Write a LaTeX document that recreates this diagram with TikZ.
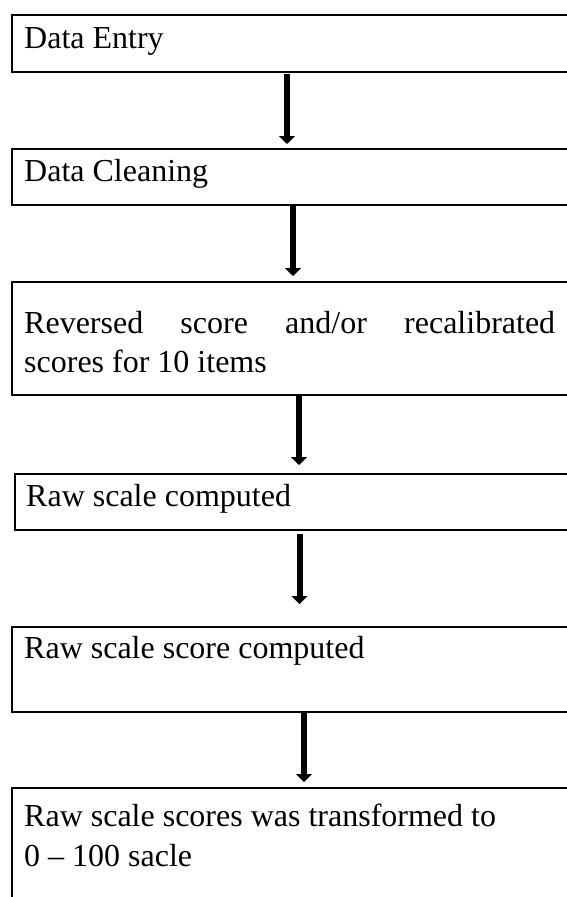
\documentclass[tikz,border=0pt]{standalone}
\usepackage{fontspec}
\setmainfont{Liberation Serif}
\usetikzlibrary{arrows.meta}
\begin{document}
\begin{tikzpicture}[x=1pt,y=1pt,
  box/.style={draw, line width=2pt, anchor=north west, minimum width=640pt, inner sep=0pt},
  lbl/.style={anchor=base west, inner sep=0pt, font=\fontsize{32}{36}\selectfont},
  arr/.style={line width=6pt, -{Triangle[width=16pt,length=8pt]}}]
\useasboundingbox (0,0) rectangle (567,-897);
\clip (0,0) rectangle (567,-897);
% boxes
\node[box, minimum height=57pt] (b1) at (11,-14) {};
\node[box, minimum height=56pt] (b2) at (11,-148) {};
\node[box, minimum height=113pt] (b3) at (11,-281) {};
\node[box, minimum height=56pt] (b4) at (13.7,-473) {};
\node[box, minimum height=85pt] (b5) at (11,-626) {};
\node[box, minimum height=140pt] (b6) at (11,-787) {};
% labels
\node[lbl] (t1) at (24,-48) {Data Entry};
\node[lbl] (t2) at (24,-181) {Data Cleaning};
\node[lbl] (t3a) at (24,-333) {\makebox[531pt][s]{Reversed score and/or recalibrated}};
\node[lbl] (t3b) at (24,-372) {scores for 10 items};
\node[lbl] (t4) at (26,-506) {Raw scale computed};
\node[lbl] (t5) at (24,-658) {Raw scale score computed};
\node[lbl] (t6a) at (24,-826) {Raw scale scores was transformed to};
\node[lbl] (t6b) at (24,-866) {0 -- 100 sacle};
% arrow end points
\coordinate (a1s) at (287,-74);  \coordinate (a1e) at (287,-144);
\coordinate (a2s) at (293,-206); \coordinate (a2e) at (293,-276);
\coordinate (a3s) at (299,-396); \coordinate (a3e) at (299,-465);
\coordinate (a4s) at (299.5,-534); \coordinate (a4e) at (299.5,-604);
\coordinate (a5s) at (304,-712); \coordinate (a5e) at (304,-782);
\draw[arr] (a1s) -- (a1e);
\draw[arr] (a2s) -- (a2e);
\draw[arr] (a3s) -- (a3e);
\draw[arr] (a4s) -- (a4e);
\draw[arr] (a5s) -- (a5e);
\end{tikzpicture}
\end{document}
